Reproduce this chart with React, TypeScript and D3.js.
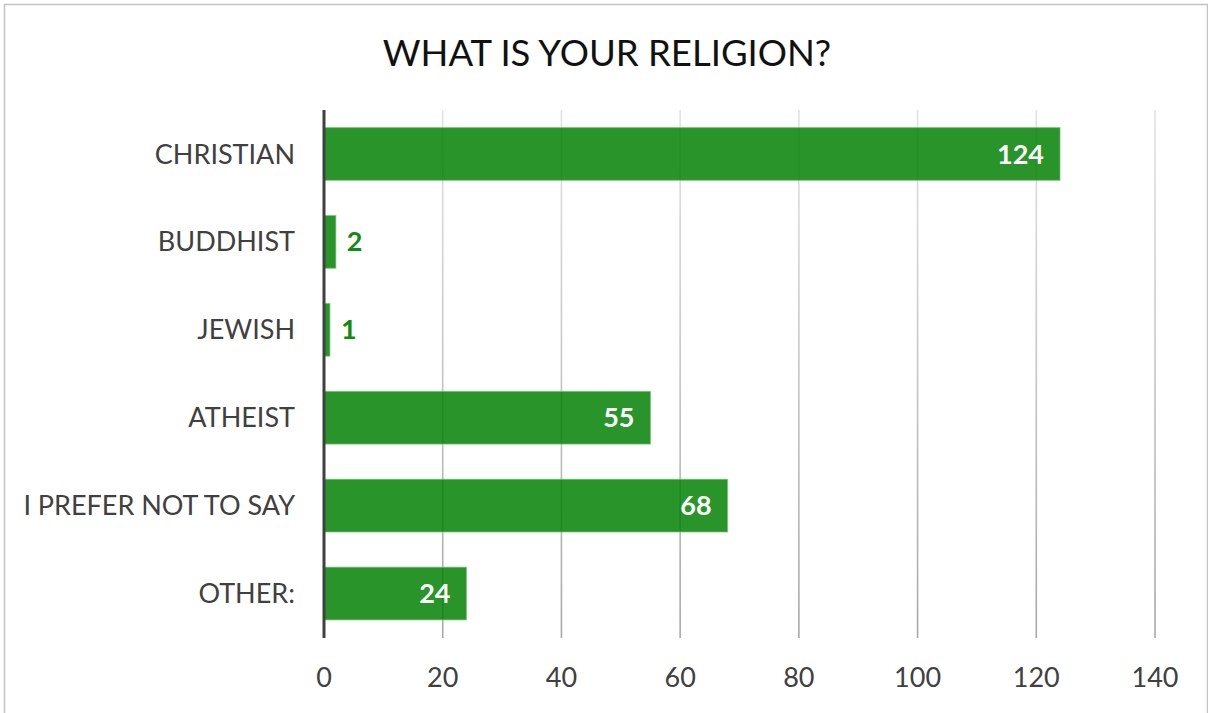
import React from "react";
import * as d3 from "d3";

const categories = ["CHRISTIAN", "BUDDHIST", "JEWISH", "ATHEIST", "I PREFER NOT TO SAY", "OTHER:"];
const values = [124, 2, 1, 55, 68, 24];
const xTicks = [0, 20, 40, 60, 80, 100, 120, 140];
const title = "WHAT IS YOUR RELIGION?";

const W = 1208;
const H = 713;
const FONT = "Lato, 'Noto Sans', sans-serif";

export default function App() {
  const x = d3.scaleLinear().domain([0, 140]).range([324, 1155]);
  const y = d3.scaleBand<string>().domain(categories).range([110, 637.5]).paddingInner(0.4).paddingOuter(0.2);
  const bw = y.bandwidth();

  return (
    <div style={{ position: "absolute", left: 0, top: 0 }}>
      <svg width={W} height={H} style={{ display: "block", background: "#fff" }}>
        <defs>
          <linearGradient id="gridGrad" gradientUnits="userSpaceOnUse" x1="0" y1="110" x2="0" y2="638">
            <stop offset="0" stopColor="#e2e2e2" />
            <stop offset="1" stopColor="#a8a8a8" />
          </linearGradient>
        </defs>
        <rect x={4.5} y={4.5} width={1203} height={H + 10} fill="#fff" stroke="#c4c4c4" strokeWidth={1.5} />
        <text x={607} y={66} textAnchor="middle" fontFamily={FONT} fontSize={36.5} fill="#111">
          {title}
        </text>
        {xTicks.filter((t) => t > 0).map((t) => (
          <line key={t} x1={x(t)} x2={x(t)} y1={110} y2={638} stroke="url(#gridGrad)" strokeWidth={1.6} />
        ))}
        {categories.map((c, i) => {
          const v = values[i];
          const yy = y(c)!;
          const x0 = x(0);
          const x1 = x(v);
          const inside = x1 - x0 > 70;
          return (
            <g key={c}>
              <rect x={x0} y={yy} width={x1 - x0} height={bw} fill="#008000" fillOpacity={0.84} stroke="#7cc07c" strokeOpacity={0.7} strokeWidth={1} />
              <text
                x={inside ? x1 - 16 : x1 + 11}
                y={yy + bw / 2 + 9.6}
                textAnchor={inside ? "end" : "start"}
                fontFamily={FONT}
                fontWeight={700}
                fontSize={27}
                fill={inside ? "#ffffff" : "#128a12"}
              >
                {v}
              </text>
              <text x={295} y={yy + bw / 2 + 9.6} textAnchor="end" fontFamily={FONT} fontSize={27} fill="#404040">
                {c}
              </text>
            </g>
          );
        })}
        <line x1={x(0)} x2={x(0)} y1={110} y2={638} stroke="#404040" strokeWidth={3} />
        {xTicks.map((t) => (
          <text key={t} x={x(t)} y={687} textAnchor="middle" fontFamily={FONT} fontSize={27} fill="#404040">
            {t}
          </text>
        ))}
      </svg>
    </div>
  );
}
